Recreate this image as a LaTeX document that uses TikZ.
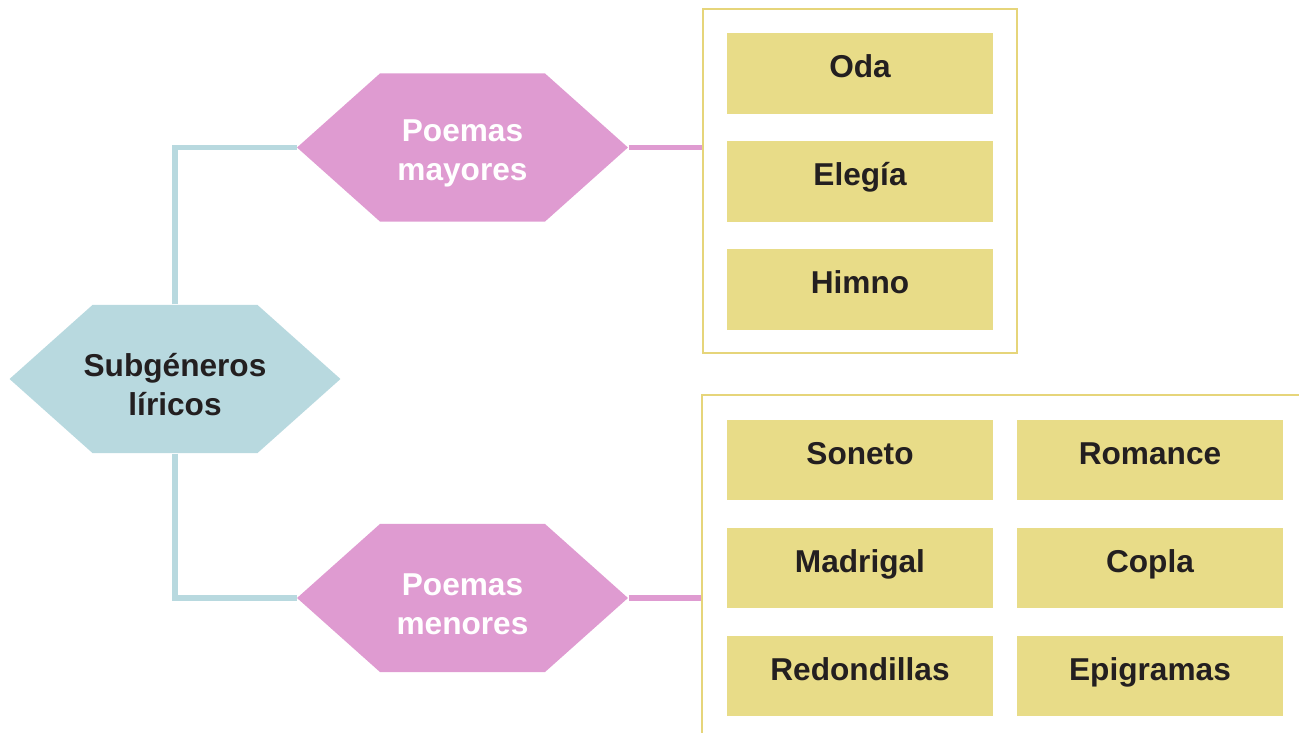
\documentclass[tikz,border=0pt]{standalone}
\usepackage{fontspec}
\setmainfont{Liberation Sans}
\usetikzlibrary{shapes.symbols}

\definecolor{hexblue}{HTML}{B8D9DF}
\definecolor{hexpink}{HTML}{DF9BD1}
\definecolor{boxyellow}{HTML}{E8DC88}
\definecolor{frameyellow}{HTML}{E6D57A}
\definecolor{textdark}{HTML}{231F20}

\newcommand{\hexstrut}{\rule{0pt}{0.68cm}}

\tikzset{
  hexa/.style={shape=signal, signal to=east and west, signal from=nowhere,
    signal pointer angle=83.5, inner sep=0pt, align=center,
    minimum width=6.62cm, minimum height=2.97cm,
    font=\bfseries\fontsize{18}{22}\selectfont},
  genbox/.style={rectangle, fill=boxyellow, inner sep=0pt,
    minimum width=5.32cm, minimum height=1.62cm,
    text height=0.5cm, text depth=0.33cm, text=textdark,
    font=\bfseries\fontsize{18}{22}\selectfont},
  framebox/.style={draw=frameyellow, line width=1.4pt},
  blueline/.style={draw=hexblue, line width=3.4pt},
  pinkline/.style={draw=hexpink, line width=3.4pt},
}

\begin{document}
\begin{tikzpicture}[x=0.02cm, y=-0.02cm]
    \useasboundingbox (0,0) rectangle (1299,733);

    \node[framebox, draw, minimum width=6.28cm, minimum height=6.88cm] (fmay) at (860,181) {};
    \coordinate (fmen) at (702,598);

    \node[hexa, fill=hexblue, text=textdark, inner xsep=-0.2cm] (sub) at (175,379) {\hexstrut Subgéneros\\líricos};
    \node[hexa, fill=hexpink, text=white] (pmay) at (462.5,147.5) {\hexstrut Poemas\\mayores};
    \node[hexa, fill=hexpink, text=white] (pmen) at (462.5,598) {\hexstrut Poemas\\menores};

    \draw[blueline] (sub.north) |- (pmay.west);
    \draw[blueline] (sub.south) |- (pmen.west);
    \draw[pinkline] (pmay.east) -- (pmay.east -| fmay.west);
    \draw[pinkline] (pmen.east) -- (fmen);

    % open frame of the minor poems
    \draw[framebox] (702,733) -- (702,395) -- (1299,395);

    \node[genbox] (oda) at (860,73.5) {Oda};
    \node[genbox] (elegia) at (860,181.5) {Elegía};
    \node[genbox] (himno) at (860,289.5) {Himno};

    \node[genbox] (soneto) at (860,460) {Soneto};
    \node[genbox] (romance) at (1150,460) {Romance};
    \node[genbox] (madrigal) at (860,568) {Madrigal};
    \node[genbox] (copla) at (1150,568) {Copla};
    \node[genbox] (redond) at (860,676) {Redondillas};
    \node[genbox] (epigr) at (1150,676) {Epigramas};

\end{tikzpicture}
\end{document}
